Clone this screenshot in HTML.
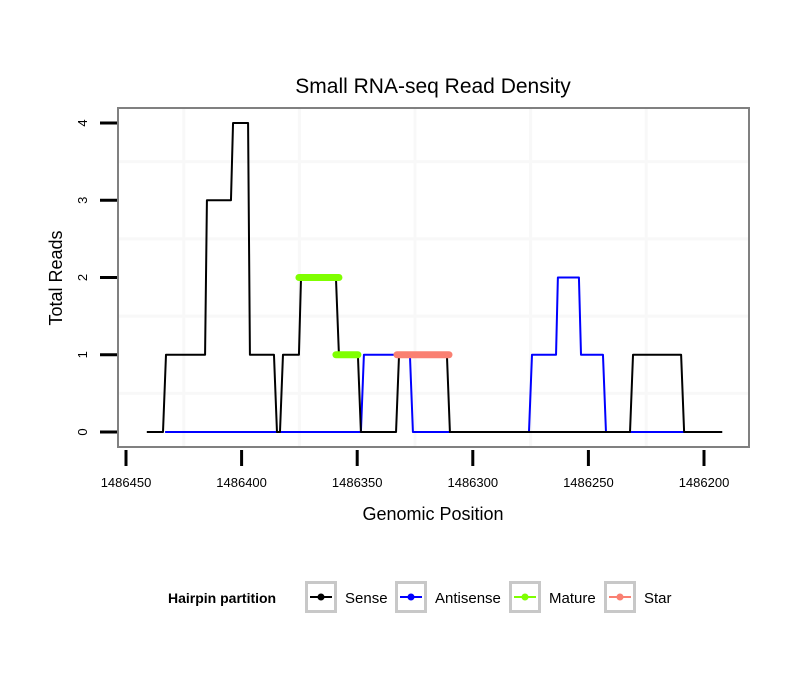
<!DOCTYPE html>
<html><head><meta charset="utf-8"><style>
body{margin:0;background:#fff;}
svg text{font-family:"Liberation Sans",sans-serif;}
</style></head><body>
<svg id="chart" width="810" height="690" xmlns="http://www.w3.org/2000/svg">
<rect x="0" y="0" width="810" height="690" fill="#fff"/>
<text x="433" y="93" font-size="21" text-anchor="middle">Small RNA-seq Read Density</text>
<g id="grid"></g>
<g id="series"></g>
<rect x="118" y="108" width="631" height="339" fill="none" stroke="#808080" stroke-width="2"/>
<g id="axes"></g>
<text x="433" y="520" font-size="18" text-anchor="middle">Genomic Position</text>
<text transform="translate(62,278) rotate(-90)" font-size="18" text-anchor="middle">Total Reads</text>
<g>
<text x="168" y="603" font-size="14" font-weight="bold">Hairpin partition</text>
<g id="legend"></g>
</g>
</svg>
<script>
const xTicks=[1486450,1486400,1486350,1486300,1486250,1486200];
const yTicks=[0,1,2,3,4];
const senseX=[1486441,1486434,1486432.7,1486415.8,1486415,1486404.6,1486403.7,1486397.2,1486396.4,1486386,1486384.7,1486383.4,1486382.1,1486375.2,1486374.3,1486359.2,1486357.9,1486349.7,1486348.4,1486333.2,1486331.9,1486311.2,1486309.9,1486232,1486230.7,1486209.9,1486208.6,1486192.1];
const senseY=[0,0,1,1,3,3,4,4,1,1,0,0,1,1,2,2,1,1,0,0,1,1,0,0,1,1,0,0];
const antiX=[1486433.1,1486348.4,1486347.1,1486327.2,1486325.9,1486275.7,1486274.4,1486264,1486263.2,1486254.1,1486253.2,1486243.7,1486242.4,1486208.6];
const antiY=[0,0,1,1,0,0,1,1,2,2,1,1,0,0];
const matureSegs=[[1486375.2,1486357.9,2],[1486359.2,1486349.7,1]];
const starSegs=[[1486332.8,1486310.3,1]];
const legendLabels=["Sense","Antisense","Mature","Star"];
const legendColors=["#000000","#0000ff","#7fff00","#fa8072"];

const NS="http://www.w3.org/2000/svg";
function sx(g){return 126+(1486450-g)*2.312;}
function sy(v){return 432-v*77.25;}
function mk(tag,attrs,parent){const e=document.createElementNS(NS,tag);for(const k in attrs)e.setAttribute(k,attrs[k]);parent.appendChild(e);return e;}
const grid=document.getElementById('grid'),series=document.getElementById('series'),axes=document.getElementById('axes'),legend=document.getElementById('legend');
for(let i=0;i<xTicks.length-1;i++){const g=(xTicks[i]+xTicks[i+1])/2;
 const l=mk('line',{x1:sx(g),x2:sx(g),y1:109,y2:446,stroke:'#f8f8f8','stroke-width':3},grid);
 
 }
for(let i=0;i<yTicks.length-1;i++){const v=(yTicks[i]+yTicks[i+1])/2;
 const l=mk('line',{x1:119,x2:748,y1:sy(v),y2:sy(v),stroke:'#f8f8f8','stroke-width':3},grid);
 
 }
function poly(xs,ys,color,name){const pts=xs.map((x,i)=>sx(x)+','+sy(ys[i])).join(' ');
 const p=mk('polyline',{points:pts,fill:'none',stroke:color,'stroke-width':2,'stroke-linejoin':'round'},series);
 
 }
poly(antiX,antiY,'#0000ff','antisense-line');
poly(senseX,senseY,'#000000','sense-line');
matureSegs.forEach(s=>{const l=mk('line',{x1:sx(s[0]),x2:sx(s[1]),y1:sy(s[2]),y2:sy(s[2]),stroke:'#7fff00','stroke-width':7,'stroke-linecap':'round'},series);
 
 });
starSegs.forEach(s=>{const l=mk('line',{x1:sx(s[0]),x2:sx(s[1]),y1:sy(s[2]),y2:sy(s[2]),stroke:'#fa8072','stroke-width':7,'stroke-linecap':'round'},series);
 
 });
xTicks.forEach(g=>{const t=mk('line',{x1:sx(g),x2:sx(g),y1:450,y2:466,stroke:'#000','stroke-width':3},axes);
 
 
 const tx=mk('text',{x:sx(g),y:487,'font-size':13,'text-anchor':'middle'},axes);tx.textContent=g;
 
 });
yTicks.forEach(v=>{const t=mk('line',{x1:100,x2:117,y1:sy(v),y2:sy(v),stroke:'#000','stroke-width':3},axes);
 
 
 const tx=mk('text',{transform:`translate(87,${sy(v)}) rotate(-90)`,'font-size':13,'text-anchor':'middle'},axes);tx.textContent=v;
 
 });
const boxX=[305,395,509,604];
legendLabels.forEach((lab,i)=>{const bx=boxX[i];
 const g=mk('g',{},legend);
 
 
 mk('rect',{x:bx+1.5,y:582.5,width:29,height:29,fill:'#fff',stroke:'#c8c8c8','stroke-width':3},g);
 mk('line',{x1:bx+5,x2:bx+27,y1:597,y2:597,stroke:legendColors[i],'stroke-width':2},g);
 mk('circle',{cx:bx+16,cy:597,r:3.5,fill:legendColors[i]},g);
 const t=mk('text',{x:bx+40,y:603,'font-size':15},g);t.textContent=lab;});
</script>
</body></html>
